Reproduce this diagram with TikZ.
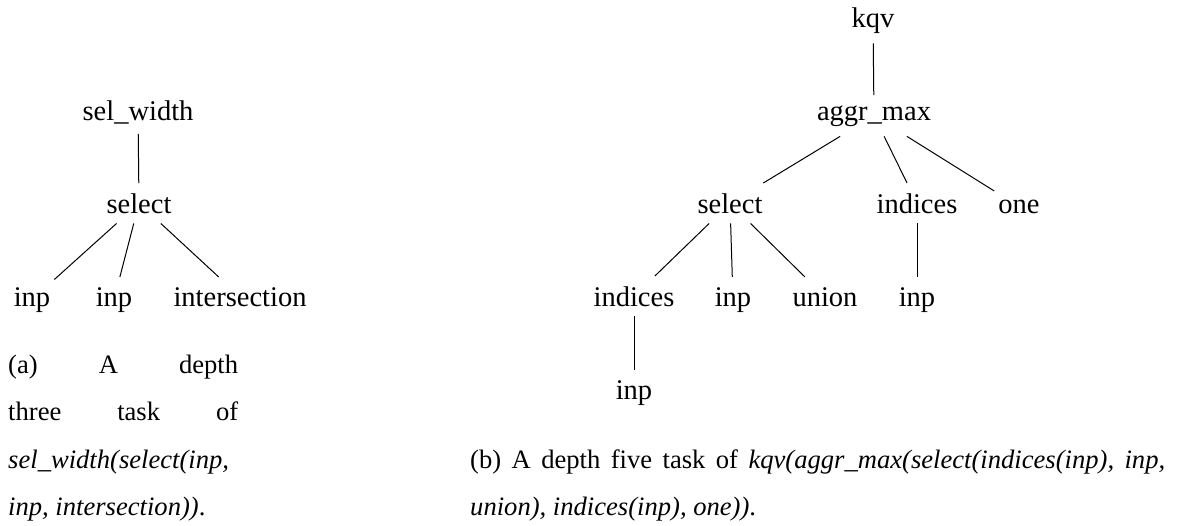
\documentclass[tikz,border=0pt]{standalone}
\usepackage{fontspec}
\setmainfont{Liberation Serif}
\begin{document}
\begin{tikzpicture}[x=1pt,y=-1pt,
  tn/.style={anchor=base,inner xsep=4pt,inner ysep=10pt,
    font=\fontsize{28.5}{34}\selectfont},
  captext/.style={anchor=base west,inner sep=0pt,
    font=\fontsize{26.6}{32}\selectfont},
  treeedge/.style={line width=1pt}]
\useasboundingbox (0,0) rectangle (1178,525);

% (a) depth three tree
\node[tn] (a0) at (138,120) {sel\_width};
\node[tn] (a1) at (139,213) {select};
\node[tn] (a2) at (32,306) {inp};
\node[tn] (a3) at (114,306) {inp};
\node[tn] (a4) at (240,306) {intersection};
\draw[treeedge] (a0) -- (a1);
\draw[treeedge] (a1) -- (a2);
\draw[treeedge] (a1) -- (a3);
\draw[treeedge] (a1) -- (a4);

% (b) depth five tree
\node[tn] (b0) at (873,27) {kqv};
\node[tn] (b1) at (874,120) {aggr\_max};
\node[tn] (b2) at (730,213) {select};
\node[tn] (b3) at (917,213) {indices};
\node[tn] (b4) at (1019,213) {one};
\node[tn] (b5) at (634,306) {indices};
\node[tn] (b6) at (733,306) {inp};
\node[tn] (b7) at (825,306) {union};
\node[tn] (b8) at (917,306) {inp};
\node[tn] (b9) at (634,399) {inp};
\draw[treeedge] (b0) -- (b1);
\draw[treeedge] (b1) -- (b2);
\draw[treeedge] (b1) -- (b3);
\draw[treeedge] (b1) -- (b4);
\draw[treeedge] (b2) -- (b5);
\draw[treeedge] (b2) -- (b6);
\draw[treeedge] (b2) -- (b7);
\draw[treeedge] (b3) -- (b8);
\draw[treeedge] (b5) -- (b9);

% captions
\node[captext] (ca1) at (8,373) {\hbox to 230pt{(a)\hfill A\hfill depth}};
\node[captext] (ca2) at (8,420) {\hbox to 230pt{three\hfill task\hfill of}};
\node[captext] (ca3) at (8,468) {\textit{sel\_width(select(inp,}};
\node[captext] (ca4) at (8,515) {\textit{inp, intersection))}.};
\node[captext] (cb1) at (470,468) {\hbox to 695pt{(b)\hfill A\hfill depth\hfill five\hfill task\hfill of\hfill \textit{kqv(aggr\_max(select(indices(inp),}\hfill\textit{inp,}}};
\node[captext] (cb2) at (470,515) {\textit{union), indices(inp), one))}.};
\end{tikzpicture}
\end{document}
